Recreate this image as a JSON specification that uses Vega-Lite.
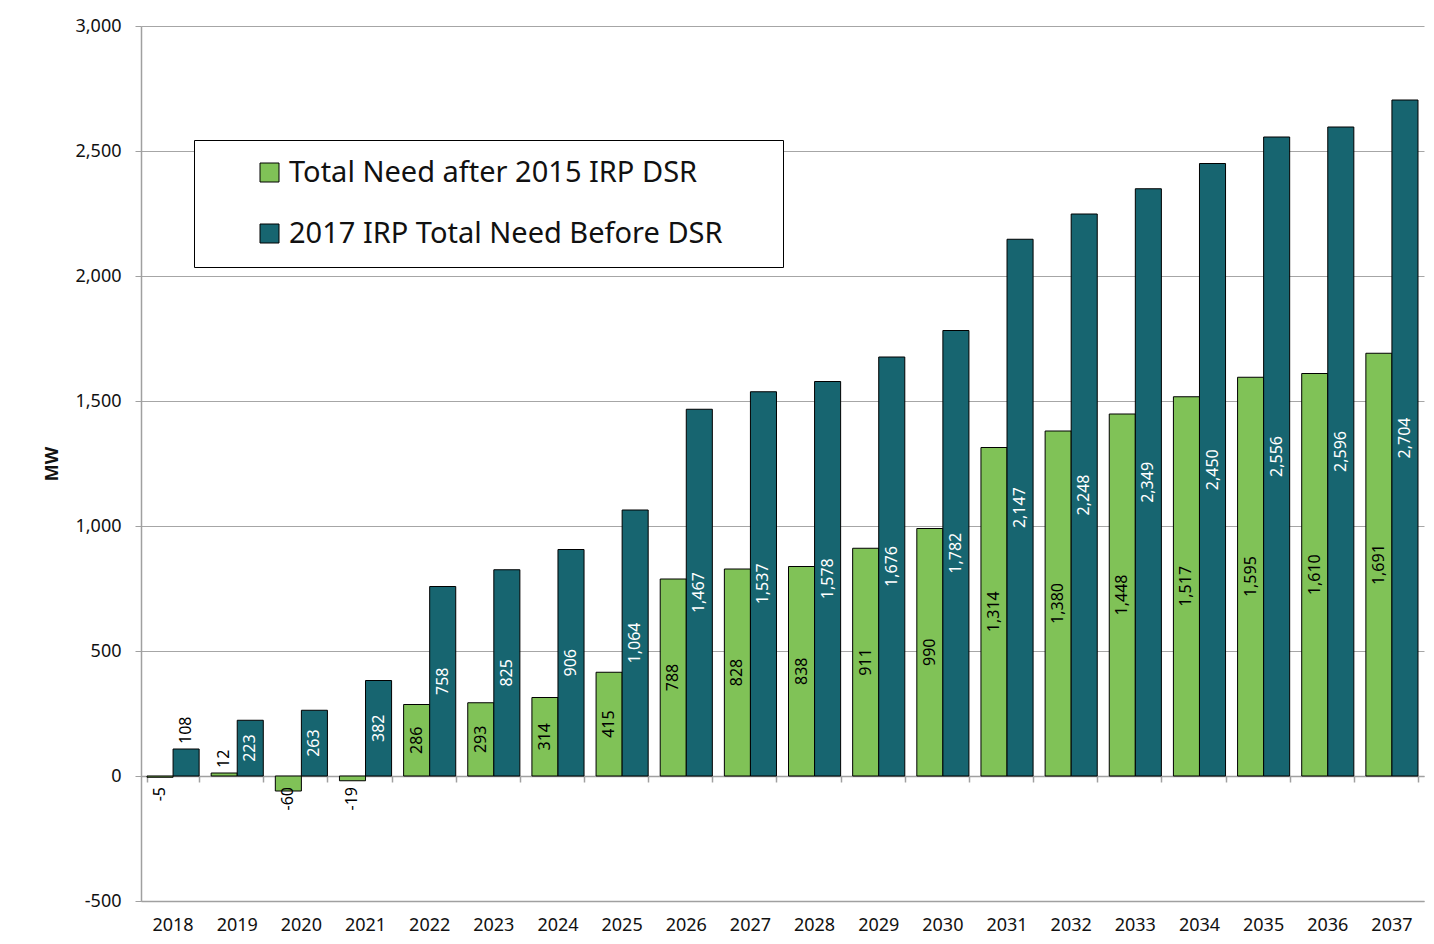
{
  "$schema": "https://vega.github.io/schema/vega-lite/v6.json",
  "autosize": "none",
  "width": 1283,
  "height": 875,
  "padding": {"left": 141, "top": 26, "right": 10, "bottom": 43},
  "background": "white",
  "config": {
    "font": "Noto Sans",
    "view": {"stroke": null},
    "axis": {"labelFont": "Noto Sans", "titleFont": "Noto Sans", "labelColor": "#111", "titleColor": "#111"}
  },
  "data": {
    "values": [
      {"year": "2018", "series": "Total Need after 2015 IRP DSR", "value": -5},
      {"year": "2019", "series": "Total Need after 2015 IRP DSR", "value": 12},
      {"year": "2020", "series": "Total Need after 2015 IRP DSR", "value": -60},
      {"year": "2021", "series": "Total Need after 2015 IRP DSR", "value": -19},
      {"year": "2022", "series": "Total Need after 2015 IRP DSR", "value": 286},
      {"year": "2023", "series": "Total Need after 2015 IRP DSR", "value": 293},
      {"year": "2024", "series": "Total Need after 2015 IRP DSR", "value": 314},
      {"year": "2025", "series": "Total Need after 2015 IRP DSR", "value": 415},
      {"year": "2026", "series": "Total Need after 2015 IRP DSR", "value": 788},
      {"year": "2027", "series": "Total Need after 2015 IRP DSR", "value": 828},
      {"year": "2028", "series": "Total Need after 2015 IRP DSR", "value": 838},
      {"year": "2029", "series": "Total Need after 2015 IRP DSR", "value": 911},
      {"year": "2030", "series": "Total Need after 2015 IRP DSR", "value": 990},
      {"year": "2031", "series": "Total Need after 2015 IRP DSR", "value": 1314},
      {"year": "2032", "series": "Total Need after 2015 IRP DSR", "value": 1380},
      {"year": "2033", "series": "Total Need after 2015 IRP DSR", "value": 1448},
      {"year": "2034", "series": "Total Need after 2015 IRP DSR", "value": 1517},
      {"year": "2035", "series": "Total Need after 2015 IRP DSR", "value": 1595},
      {"year": "2036", "series": "Total Need after 2015 IRP DSR", "value": 1610},
      {"year": "2037", "series": "Total Need after 2015 IRP DSR", "value": 1691},
      {"year": "2018", "series": "2017 IRP Total Need Before DSR", "value": 108},
      {"year": "2019", "series": "2017 IRP Total Need Before DSR", "value": 223},
      {"year": "2020", "series": "2017 IRP Total Need Before DSR", "value": 263},
      {"year": "2021", "series": "2017 IRP Total Need Before DSR", "value": 382},
      {"year": "2022", "series": "2017 IRP Total Need Before DSR", "value": 758},
      {"year": "2023", "series": "2017 IRP Total Need Before DSR", "value": 825},
      {"year": "2024", "series": "2017 IRP Total Need Before DSR", "value": 906},
      {"year": "2025", "series": "2017 IRP Total Need Before DSR", "value": 1064},
      {"year": "2026", "series": "2017 IRP Total Need Before DSR", "value": 1467},
      {"year": "2027", "series": "2017 IRP Total Need Before DSR", "value": 1537},
      {"year": "2028", "series": "2017 IRP Total Need Before DSR", "value": 1578},
      {"year": "2029", "series": "2017 IRP Total Need Before DSR", "value": 1676},
      {"year": "2030", "series": "2017 IRP Total Need Before DSR", "value": 1782},
      {"year": "2031", "series": "2017 IRP Total Need Before DSR", "value": 2147},
      {"year": "2032", "series": "2017 IRP Total Need Before DSR", "value": 2248},
      {"year": "2033", "series": "2017 IRP Total Need Before DSR", "value": 2349},
      {"year": "2034", "series": "2017 IRP Total Need Before DSR", "value": 2450},
      {"year": "2035", "series": "2017 IRP Total Need Before DSR", "value": 2556},
      {"year": "2036", "series": "2017 IRP Total Need Before DSR", "value": 2596},
      {"year": "2037", "series": "2017 IRP Total Need Before DSR", "value": 2704}
    ]
  },
  "transform": [
    {"calculate": "abs(datum.value) >= 200 ? datum.value / 2 : (datum.value >= 0 ? datum.value : 0)", "as": "labY"},
    {"calculate": "replace(format(datum.value, ','), '\u2212', '-')", "as": "lab"}
  ],
  "encoding": {
    "x": {"field": "year", "type": "nominal", "scale": {"paddingInner": 0.1875, "paddingOuter": 0.09375}},
    "xOffset": {"field": "series", "type": "nominal", "sort": ["Total Need after 2015 IRP DSR", "2017 IRP Total Need Before DSR"]}
  },
  "layer": [
    {
      "mark": {"type": "bar", "stroke": "black", "strokeWidth": 1},
      "encoding": {
        "x": {"field": "year", "type": "nominal", "title": null,
          "axis": {"orient": "bottom", "labelAngle": 0, "labelFontSize": 18, "ticks": false, "labelPadding": 15, "domainColor": "#a0a0a0", "domainWidth": 1.5, "grid": false}},
        "y": {"field": "value", "type": "quantitative", "title": "MW",
          "scale": {"domain": [-500, 3000], "nice": false, "zero": false},
          "axis": {"values": [-500, 0, 500, 1000, 1500, 2000, 2500, 3000], "labelExpr": "replace(format(datum.value, ','), '\u2212', '-')", "labelFontSize": 18, "titleFontSize": 18, "titleFontWeight": "bold", "titlePadding": 13, "tickSize": 6, "tickColor": "#a0a0a0", "domainColor": "#a0a0a0", "domainWidth": 1.5, "gridColor": "#a6a6a6", "gridWidth": 1, "labelPadding": 14}},
        "color": {"field": "series", "type": "nominal",
          "scale": {"domain": ["Total Need after 2015 IRP DSR", "2017 IRP Total Need Before DSR"], "range": ["#80c257", "#176570"]},
          "legend": {"orient": "none", "legendX": 53, "legendY": 114, "title": null, "strokeColor": "black", "fillColor": "white", "padding": 18, "symbolType": "square", "symbolSize": 361, "symbolStrokeColor": "black", "symbolStrokeWidth": 1, "labelFontSize": 29, "labelFont": "Noto Sans", "labelColor": "#111", "rowPadding": 31, "symbolOffset": 43, "labelOffset": 5, "labelLimit": 900, "labelExpr": "datum.label + '\u2800\u2800'"}}
      }
    },
    {
      "transform": [{"filter": "abs(datum.value) >= 200"}],
      "mark": {"type": "text", "angle": -90, "align": "center", "baseline": "middle", "fontSize": 16, "font": "Noto Sans"},
      "encoding": {
        "x": {"field": "year", "type": "nominal", "title": null,
          "axis": {"orient": "bottom", "offset": -125, "labels": false, "ticks": true, "tickSize": 6, "tickBand": "extent", "tickColor": "#a0a0a0", "tickWidth": 1.5, "domain": true, "domainColor": "#a0a0a0", "domainWidth": 1.5, "grid": false, "title": null}},
        "y": {"field": "labY", "type": "quantitative"},
        "text": {"field": "lab", "type": "nominal"},
        "fill": {"condition": {"test": "datum.series === '2017 IRP Total Need Before DSR'", "value": "white"}, "value": "black"}
      }
    },
    {
      "transform": [{"filter": "datum.value >= 0 && datum.value < 200"}],
      "mark": {"type": "text", "angle": -90, "align": "left", "baseline": "middle", "dx": 5, "fontSize": 16, "font": "Noto Sans", "fill": "black"},
      "encoding": {
        "x": {"field": "year", "type": "nominal", "axis": null},
        "y": {"field": "labY", "type": "quantitative"},
        "text": {"field": "lab", "type": "nominal"}
      }
    },
    {
      "transform": [{"filter": "datum.value < 0"}],
      "mark": {"type": "text", "angle": -90, "align": "right", "baseline": "middle", "dx": -11, "fontSize": 16, "font": "Noto Sans", "fill": "black"},
      "encoding": {
        "x": {"field": "year", "type": "nominal", "axis": null},
        "y": {"field": "labY", "type": "quantitative"},
        "text": {"field": "lab", "type": "nominal"}
      }
    }
  ],
  "resolve": {"axis": {"x": "independent"}}
}
